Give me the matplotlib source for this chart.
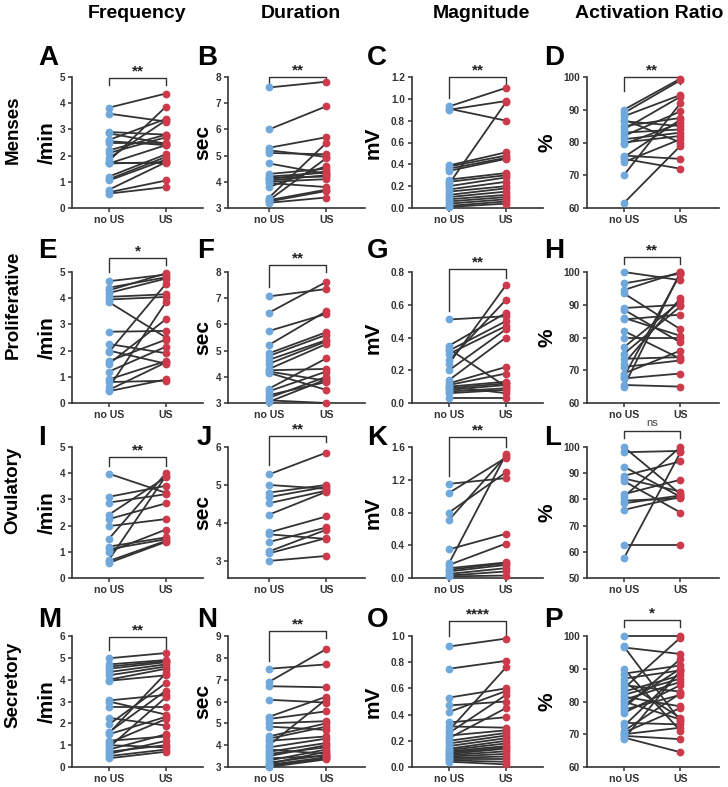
import numpy as np
import matplotlib
matplotlib.use("Agg")
import matplotlib.pyplot as plt
import matplotlib.transforms as mtransforms

plt.rcParams['font.family'] = ['Liberation Sans', 'DejaVu Sans']

# ---- data (no US -> US pairs) ----
a_pre = [3.83, 3.6, 2.9, 2.85, 2.6, 2.55, 2.5, 2.2, 2.1, 1.9, 1.8, 1.7, 1.7, 1.7, 1.2, 1.1, 1.05, 0.7, 0.6, 0.55]
a_post = [4.37, 3.3, 2.8, 2.45, 3.4, 2.4, 2.5, 2.8, 2.7, 3.35, 3.87, 1.7, 2.4, 1.75, 2.05, 1.95, 1.85, 1.75, 1.05, 0.8]
b_pre = [7.6, 6.0, 5.3, 5.2, 5.1, 4.7, 4.3, 4.2, 4.15, 4.1, 4.05, 4.0, 3.95, 3.8, 3.4, 3.3, 3.3, 3.25, 3.2]
b_post = [7.82, 6.88, 5.7, 4.95, 5.05, 4.3, 4.5, 4.35, 4.2, 4.4, 4.25, 4.1, 3.8, 4.6, 5.48, 3.7, 4.9, 3.65, 3.4]
c_pre = [0.93, 0.91, 0.90, 0.39, 0.38, 0.36, 0.34, 0.26, 0.24, 0.22, 0.2, 0.17, 0.15, 0.12, 0.1, 0.08, 0.06, 0.04, 0.02, 0.01]
c_post = [1.10, 0.80, 0.98, 0.51, 0.48, 0.46, 0.45, 0.32, 0.30, 0.97, 0.28, 0.24, 0.2, 0.18, 0.15, 0.12, 0.1, 0.08, 0.06, 0.04]
d_pre = [90, 89, 88, 87, 86.5, 85, 84, 83, 82, 81, 80, 79.5, 76, 75.5, 75, 74, 70, 61.5]
d_post = [99.5, 99, 94.5, 80, 85, 87.5, 94, 84, 89.5, 83, 82, 86, 75, 87, 72, 81, 92, 79]

e_pre = [4.65, 4.4, 4.3, 4.2, 4.05, 3.95, 3.85, 2.72, 2.25, 2.0, 1.95, 1.6, 1.5, 1.2, 0.9, 0.8, 0.6, 0.5, 0.45]
e_post = [4.9, 4.8, 4.95, 4.75, 4.15, 4.05, 2.5, 2.75, 1.9, 1.5, 4.55, 2.42, 3.2, 2.15, 1.6, 0.85, 3.85, 1.55, 0.9]
f_pre = [7.07, 6.45, 5.75, 5.22, 4.9, 4.8, 4.65, 4.5, 4.3, 4.25, 4.2, 4.15, 3.55, 3.45, 3.3, 3.2, 3.1, 3.05]
f_post = [7.35, 7.62, 6.4, 6.5, 5.7, 5.6, 5.4, 5.35, 5.25, 4.3, 3.85, 3.5, 4.7, 4.2, 3.8, 4.0, 3.0, 3.9]
g_pre = [0.51, 0.35, 0.33, 0.32, 0.30, 0.26, 0.24, 0.20, 0.14, 0.12, 0.11, 0.10, 0.10, 0.09, 0.08, 0.07, 0.06, 0.03]
g_post = [0.53, 0.55, 0.10, 0.50, 0.47, 0.63, 0.72, 0.45, 0.40, 0.22, 0.18, 0.13, 0.06, 0.12, 0.11, 0.09, 0.08, 0.03]
h_pre = [100, 96.5, 94.5, 93.5, 89, 88.5, 86, 85.5, 82, 80, 77, 75, 73.5, 72, 71, 69, 68, 67.5, 65.5, 65]
h_post = [97.5, 99.5, 100, 82.5, 90, 78.5, 80.5, 87, 73.5, 80, 91, 89.5, 74, 92, 73, 76, 99.5, 69, 65, 100]

i_pre = [3.98, 3.1, 2.88, 2.42, 2.25, 1.98, 1.5, 1.2, 1.1, 1.0, 0.7, 0.65, 0.58]
i_post = [3.25, 3.52, 3.2, 3.85, 2.85, 2.25, 4.0, 1.55, 1.48, 1.85, 3.9, 1.42, 1.38]
j_pre = [5.28, 5.0, 4.8, 4.68, 4.52, 4.22, 3.75, 3.7, 3.5, 3.25, 3.2, 3.0]
j_post = [5.85, 4.9, 5.0, 4.95, 4.85, 4.82, 4.17, 3.58, 3.88, 3.82, 3.6, 3.13]
k_pre = [1.15, 1.04, 0.80, 0.71, 0.35, 0.18, 0.16, 0.12, 0.10, 0.08, 0.05, 0.03, 0.02]
k_post = [1.22, 1.47, 1.29, 1.49, 0.54, 1.51, 0.42, 0.19, 0.18, 0.16, 0.12, 0.08, 0.03]
l_pre = [100, 98, 92.5, 89, 88, 87, 82, 81, 79.5, 78.5, 76, 62.5, 57.5]
l_post = [82, 98.5, 81, 94.5, 83, 75, 87.5, 100, 80.5, 81.5, 81, 62.5, 98]

m_pre = [4.98, 4.7, 4.6, 4.5, 4.35, 4.2, 4.0, 3.95, 3.05, 3.0, 2.75, 2.25, 1.95, 1.6, 1.55, 1.5, 1.2, 1.1, 1.0, 0.9, 0.8, 0.7, 0.6, 0.5, 0.4]
m_post = [5.22, 4.9, 4.85, 4.8, 4.7, 4.6, 4.5, 4.2, 3.3, 2.4, 2.75, 1.9, 3.85, 3.5, 4.3, 2.3, 1.4, 2.2, 0.9, 3.2, 1.5, 1.0, 1.2, 0.8, 0.7]
n_pre = [7.5, 6.9, 6.7, 6.08, 5.3, 5.2, 5.0, 4.85, 4.4, 4.3, 4.2, 4.0, 3.9, 3.8, 3.7, 3.6, 3.5, 3.4, 3.3, 3.2, 3.15, 3.1, 3.05, 3.0]
n_post = [7.7, 8.4, 6.65, 5.95, 6.22, 5.55, 5.1, 4.7, 5.0, 4.85, 4.4, 6.1, 4.3, 3.6, 4.1, 3.9, 4.0, 3.5, 3.8, 3.55, 3.7, 3.45, 3.4, 3.35]
o_pre = [0.92, 0.75, 0.53, 0.47, 0.42, 0.34, 0.31, 0.28, 0.26, 0.24, 0.22, 0.20, 0.18, 0.16, 0.14, 0.13, 0.12, 0.11, 0.10, 0.09, 0.08, 0.07, 0.06, 0.05, 0.04]
o_post = [0.98, 0.81, 0.60, 0.50, 0.58, 0.38, 0.30, 0.76, 0.55, 0.28, 0.45, 0.26, 0.24, 0.22, 0.20, 0.18, 0.16, 0.15, 0.14, 0.12, 0.10, 0.08, 0.06, 0.04, 0.02]
p_pre = [100, 96.8, 96.5, 90, 88.5, 87, 86, 85, 84, 83, 82, 81.5, 80.5, 80, 79, 78, 77.5, 76.5, 73.5, 72.5, 71, 70.5, 70, 69.5, 69, 68.5]
p_post = [100, 74, 94.5, 71, 91, 89.5, 75, 83, 99.5, 88, 87, 78.5, 86, 74.5, 90, 93, 82, 85, 73, 89, 82.5, 78, 72, 68.5, 64.5, 89.5]

groups = ["no US", "US"]
col_titles = ["Frequency", "Duration", "Magnitude", "Activation Ratio"]
row_titles = ["Menses", "Proliferative", "Ovulatory", "Secretory"]
units = ["/min", "sec", "mV", "%"]
letters = list("ABCDEFGHIJKLMNOP")
signif = ["**", "**", "**", "**", "*", "**", "**", "**",
          "**", "**", "**", "ns", "**", "**", "****", "*"]

pairs = [(a_pre, a_post), (b_pre, b_post), (c_pre, c_post), (d_pre, d_post),
         (e_pre, e_post), (f_pre, f_post), (g_pre, g_post), (h_pre, h_post),
         (i_pre, i_post), (j_pre, j_post), (k_pre, k_post), (l_pre, l_post),
         (m_pre, m_post), (n_pre, n_post), (o_pre, o_post), (p_pre, p_post)]

# y limits and ticks per panel
ylims = [(0, 5), (3, 8), (0, 1.2), (60, 100),
         (0, 5), (3, 8), (0, 0.8), (60, 100),
         (0, 5), (2.55, 6), (0, 1.6), (50, 100),
         (0, 6), (3, 9), (0, 1.0), (60, 100)]
yticks = [np.arange(0, 5.1, 1), np.arange(3, 8.1, 1), np.arange(0, 1.21, 0.2), np.arange(60, 101, 10),
          np.arange(0, 5.1, 1), np.arange(3, 8.1, 1), np.arange(0, 0.81, 0.2), np.arange(60, 101, 10),
          np.arange(0, 5.1, 1), np.arange(3, 6.1, 1), np.arange(0, 1.61, 0.4), np.arange(50, 101, 10),
          np.arange(0, 6.1, 1), np.arange(3, 9.1, 1), np.arange(0, 1.01, 0.2), np.arange(60, 101, 10)]
yfmt = ["{:.0f}", "{:.0f}", "{:.1f}", "{:.0f}"]

# bracket: (top, left leg end, right leg end) in axes fraction
brackets = [(0.99, 0.94, 0.94), (1.0, 0.92, 0.95), (1.0, 0.84, 0.94), (1.0, 0.89, 0.95),
            (1.108, 1.0, 1.054), (1.054, 0.885, 1.0), (1.023, 0.70, 0.954), (1.115, 1.06, 1.06),
            (0.924, 0.855, 0.855), (1.084, 0.863, 1.038), (1.077, 0.777, 1.0), (1.122, 1.069, 1.069),
            (0.99, 0.89, 0.89), (1.038, 0.81, 0.985), (1.115, 1.0, 1.0), (1.122, 1.069, 1.069)]

W, H = 728, 787
row_top = [77, 272, 447, 636]
row_h = 131
col_left = [72, 228, 412, 587]
col_w = [131, 137, 131, 132]
col_xlim = [(-0.65, 1.65), (-0.72, 1.68), (-0.65, 1.65), (-0.65, 1.68)]
ylabel_x = [-0.115, -0.115, -0.225, -0.232]

blue = "#6FA8DC"
red = "#CC3B4C"
line_c = "#333333"
ax_c = "#333333"

fig = plt.figure(figsize=(W / 100, H / 100), dpi=100)

for idx in range(16):
    r, c = divmod(idx, 4)
    left = col_left[c] / W
    bottom = 1 - (row_top[r] + row_h) / H
    ax = fig.add_axes([left, bottom, col_w[c] / W, row_h / H])
    pre, post = pairs[idx]
    for y0, y1 in zip(pre, post):
        ax.plot([0, 1], [y0, y1], color=line_c, lw=1.3, zorder=2, clip_on=False)
    ax.plot(np.zeros(len(pre)), pre, 'o', color=blue, ms=4.6, zorder=3, clip_on=False)
    ax.plot(np.ones(len(post)), post, 'o', color=red, ms=4.6, zorder=3, clip_on=False)

    ax.set_xlim(*col_xlim[c])
    ax.set_ylim(*ylims[idx])
    ax.set_yticks(yticks[idx])
    ax.set_yticklabels([yfmt[c].format(v) for v in yticks[idx]])
    ax.set_xticks([0, 1])
    ax.set_xticklabels(groups)
    for s in ["top", "right"]:
        ax.spines[s].set_visible(False)
    for s in ["left", "bottom"]:
        ax.spines[s].set_color(ax_c)
        ax.spines[s].set_linewidth(1.2)
    ax.tick_params(axis='both', colors=ax_c, width=1.1, length=3, pad=2)
    ax.tick_params(axis='y', labelsize=7.2)
    ax.tick_params(axis='x', labelsize=7.6)
    for t in ax.get_yticklabels() + ax.get_xticklabels():
        t.set_fontweight('bold')
        t.set_color("#333333")

    ax.set_ylabel(units[c], fontsize=15, fontweight='bold', color='black')
    ax.yaxis.set_label_coords(ylabel_x[c], 0.5)

    # significance bracket
    trans = mtransforms.blended_transform_factory(ax.transData, ax.transAxes)
    top, lleg, rleg = brackets[idx]
    ax.plot([0, 0, 1, 1], [lleg, top, top, rleg], color=line_c, lw=1.0,
            transform=trans, clip_on=False)
    if signif[idx] == "ns":
        ax.text(0.5, top + 0.025, "ns", transform=trans, ha='center', va='bottom',
                fontsize=8, color="#444444")
    else:
        ax.text(0.5, top - 0.005, signif[idx], transform=trans, ha='center', va='bottom',
                fontsize=11, fontweight='bold', color="#222222")

    # panel letter
    lx = [38, 197, 367, 544][c]
    ly = [45, 238, 425, 607][r]
    fig.text(lx / W, 1 - ly / H, letters[idx], fontsize=20, fontweight='bold',
             ha='left', va='top')

col_cx = [137, 301, 481, 649]
for c in range(4):
    fig.text(col_cx[c] / W, 1 - 14 / H, col_titles[c], fontsize=14,
             fontweight='bold', ha='center', va='center')

row_cy = [130, 305, 490, 685]
for r in range(4):
    fig.text(13 / W, 1 - row_cy[r] / H, row_titles[r], fontsize=13.5,
             fontweight='bold', rotation=90, ha='center', va='center')

fig.savefig("out.png", dpi=100)
